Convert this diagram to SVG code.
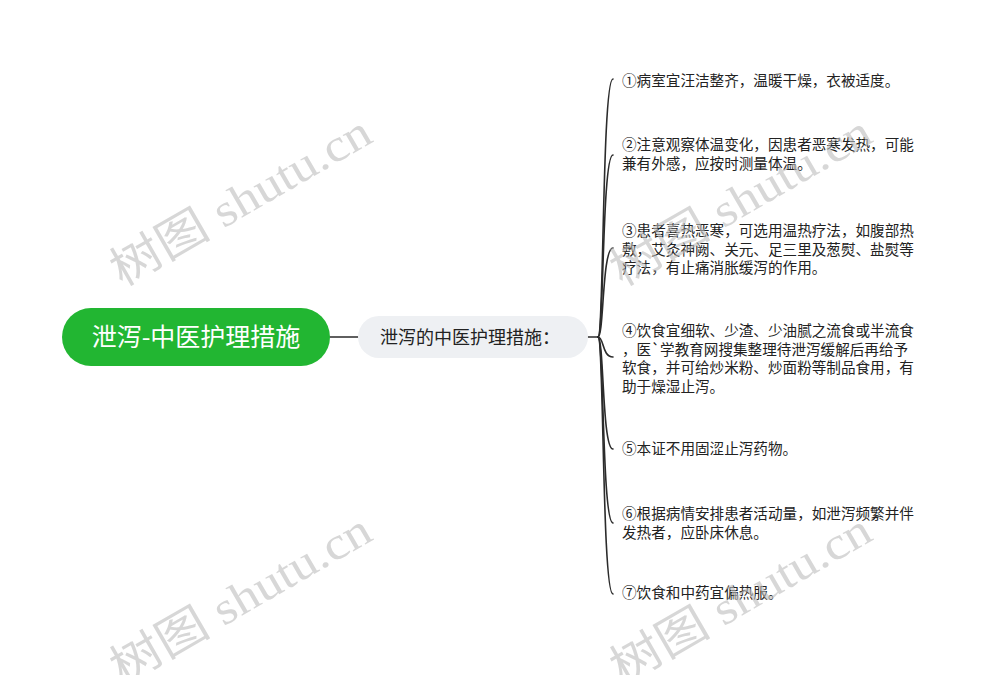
<svg xmlns="http://www.w3.org/2000/svg" width="983" height="675" viewBox="0 0 983 675">
<style>
.conn{fill:none;stroke:#2b2b2b;stroke-width:1.6;stroke-linecap:round}
.leaf{font-family:"Noto Sans CJK SC","Noto Sans",sans-serif;font-size:14.6px;fill:#222}
.wm{font-family:"Liberation Serif","Noto Sans CJK SC",serif;font-size:46px;fill:#bdbdbd;opacity:0.6}
</style>
<rect width="983" height="675" fill="#ffffff"/>
<g id="connectors">
<path class="conn" d="M330 337 H358"/>
<path class="conn" d="M588 337 H598"/>
<path class="conn" d="M598 337 C604 337 602 79 613 79"/>
<path class="conn" d="M598 337 C604 337 602 155 613 155"/>
<path class="conn" d="M598 337 C604 337 602 248 613 248"/>
<path class="conn" d="M598 337 C604 337 602 357 613 357"/>
<path class="conn" d="M598 337 C604 337 602 449 613 449"/>
<path class="conn" d="M598 337 C604 337 602 523 613 523"/>
<path class="conn" d="M598 337 C604 337 602 594 613 594"/>
</g>
<g id="root">
<rect x="62" y="308" width="268" height="58" rx="29" fill="#22b632"/>
<text x="196" y="346" text-anchor="middle" font-family="'Noto Sans CJK SC','Noto Sans',sans-serif" font-size="25" fill="#ffffff">泄泻-中医护理措施</text>
</g>
<g id="sub">
<rect x="358" y="316" width="230" height="42" rx="21" fill="#eef0f3"/>
<text x="380" y="343.5" font-family="'Noto Sans CJK SC','Noto Sans',sans-serif" font-size="18" fill="#222">泄泻的中医护理措施：</text>
</g>
<g id="item1"><text class="leaf" x="622" y="86">①病室宜汪洁整齐，温暖干燥，衣被适度。</text></g>
<g id="item2"><text class="leaf" x="622" y="150">②注意观察体温变化，因患者恶寒发热，可能</text><text class="leaf" x="622" y="169">兼有外感，应按时测量体温。</text></g>
<g id="item3"><text class="leaf" x="622" y="236">③患者喜热恶寒，可选用温热疗法，如腹部热</text><text class="leaf" x="622" y="254.7">敷，艾灸神阙、关元、足三里及葱熨、盐熨等</text><text class="leaf" x="622" y="273.4">疗法，有止痛消胀缓泻的作用。</text></g>
<g id="item4"><text class="leaf" x="622" y="336">④饮食宜细软、少渣、少油腻之流食或半流食</text><text class="leaf" x="622" y="354.7">，医`学教育网搜集整理待泄泻缓解后再给予</text><text class="leaf" x="622" y="373.4">软食，并可给炒米粉、炒面粉等制品食用，有</text><text class="leaf" x="622" y="392.1">助于燥湿止泻。</text></g>
<g id="item5"><text class="leaf" x="622" y="454">⑤本证不用固涩止泻药物。</text></g>
<g id="item6"><text class="leaf" x="622" y="519">⑥根据病情安排患者活动量，如泄泻频繁并伴</text><text class="leaf" x="622" y="537.7">发热者，应卧床休息。</text></g>
<g id="item7"><text class="leaf" x="622" y="598">⑦饮食和中药宜偏热服。</text></g>
<g id="watermarks">
<text class="wm" transform="translate(122,287) rotate(-30)" textLength="292" lengthAdjust="spacingAndGlyphs">树图 shutu.cn</text>
<text class="wm" transform="translate(622,287) rotate(-30)" textLength="292" lengthAdjust="spacingAndGlyphs">树图 shutu.cn</text>
<text class="wm" transform="translate(122,685) rotate(-30)" textLength="292" lengthAdjust="spacingAndGlyphs">树图 shutu.cn</text>
<text class="wm" transform="translate(622,685) rotate(-30)" textLength="292" lengthAdjust="spacingAndGlyphs">树图 shutu.cn</text>
</g>
</svg>
